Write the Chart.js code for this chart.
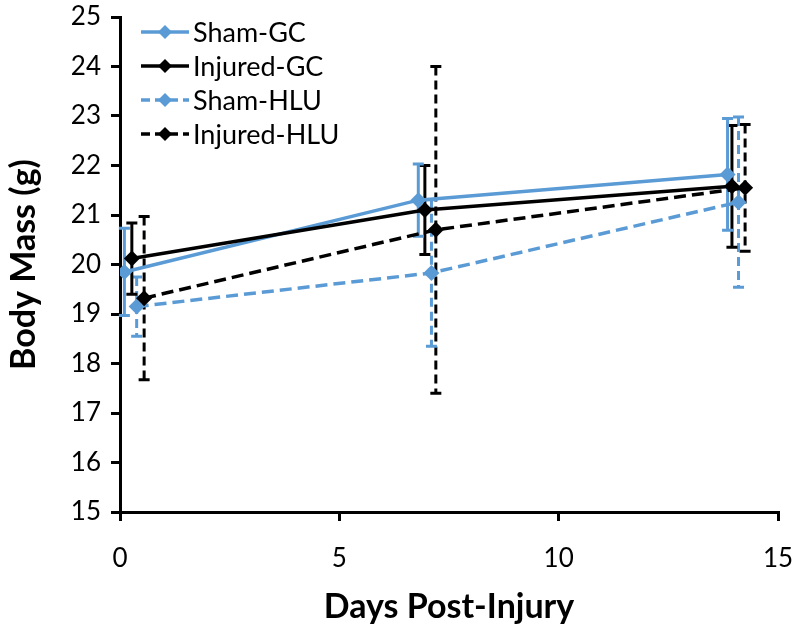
<!DOCTYPE html>
<html>
<head>
<meta charset="utf-8">
<script src="https://cdn.jsdelivr.net/npm/chart.js@4"></script>
<style>
  html, body { margin: 0; padding: 0; background: #fff; }
  #wrap { width: 800px; height: 631px; }
</style>
</head>
<body>
<div id="wrap"><canvas id="massChart" width="800" height="631"></canvas></div>
<script>
// body mass over time, mean +/- error per group

const SERIES_NAMES = ['Sham-GC', 'Injured-GC', 'Sham-HLU', 'Injured-HLU'];

// x positions (days, slightly offset per group as in the figure)
const shamGcDays = [0.1, 6.8, 13.85];
const injGcDays = [0.27, 6.95, 13.95];
const shamHluDays = [0.38, 7.1, 14.1];
const injHluDays = [0.55, 7.2, 14.25];

// mean body mass (g)
const shamGcMass = [19.85, 21.3, 21.82];
const injGcMass = [20.12, 21.1, 21.58];
const shamHluMass = [19.15, 19.83, 21.26];
const injHluMass = [19.32, 20.7, 21.55];

// error bar half-lengths (g)
const shamGcErr = [0.88, 0.73, 1.13];
const injGcErr = [0.72, 0.9, 1.23];
const shamHluErr = [0.6, 1.48, 1.72];
const injHluErr = [1.65, 3.3, 1.28];

const xTicks = [0, 5, 10, 15];
const yTicks = [15, 16, 17, 18, 19, 20, 21, 22, 23, 24, 25];

const BLUE = '#5b9bd5';
const BLACK = '#000000';
const FONT = 'Lato, "Open Sans", sans-serif';

function points(days, mass) {
  return days.map((d, i) => ({ x: d, y: mass[i] }));
}

function makeSet(label, days, mass, err, color, dashed) {
  return {
    label,
    data: points(days, mass),
    errors: err,
    borderColor: color,
    backgroundColor: color,
    borderWidth: 3.5,
    borderDash: dashed ? [12, 6] : [],
    pointStyle: 'rectRot',
    pointRadius: 8,
    pointHoverRadius: 8,
    pointBorderWidth: 0,
    pointBackgroundColor: color,
    tension: 0,
    fill: false
  };
}

const datasets = [
  makeSet(SERIES_NAMES[3], injHluDays, injHluMass, injHluErr, BLACK, true),
  makeSet(SERIES_NAMES[2], shamHluDays, shamHluMass, shamHluErr, BLUE, true),
  makeSet(SERIES_NAMES[1], injGcDays, injGcMass, injGcErr, BLACK, false),
  makeSet(SERIES_NAMES[0], shamGcDays, shamGcMass, shamGcErr, BLUE, false)
];

// vertical error bars with caps, drawn through the scales
const errorBars = {
  id: 'errorBars',
  beforeDatasetsDraw(chart) {
    const { ctx, scales: { x, y } } = chart;
    ctx.save();
    chart.data.datasets.forEach(ds => {
      ds.data.forEach((p, i) => {
        const px = x.getPixelForValue(p.x);
        const top = y.getPixelForValue(p.y + ds.errors[i]);
        const bot = y.getPixelForValue(p.y - ds.errors[i]);
        ctx.strokeStyle = ds.borderColor;
        ctx.lineWidth = 3;
        ctx.setLineDash(ds.borderDash.length ? [9, 5] : []);
        ctx.beginPath();
        ctx.moveTo(px, top);
        ctx.lineTo(px, bot);
        ctx.stroke();
        ctx.setLineDash([]);
        ctx.lineWidth = 3;
        ctx.beginPath();
        ctx.moveTo(px - 5.5, top);
        ctx.lineTo(px + 5.5, top);
        ctx.moveTo(px - 5.5, bot);
        ctx.lineTo(px + 5.5, bot);
        ctx.stroke();
      });
    });
    ctx.restore();
  }
};

// legend inside the plot, top left
const insideLegend = {
  id: 'insideLegend',
  afterDraw(chart) {
    const { ctx } = chart;
    const order = [3, 2, 1, 0];
    ctx.save();
    ctx.font = '27px ' + FONT;
    ctx.textBaseline = 'middle';
    order.forEach((di, row) => {
      const ds = chart.data.datasets[di];
      const yy = 32 + row * 34;
      ctx.strokeStyle = ds.borderColor;
      ctx.lineWidth = 3.5;
      ctx.setLineDash(ds.borderDash.length ? [9, 5] : []);
      ctx.beginPath();
      ctx.moveTo(141, yy);
      ctx.lineTo(189, yy);
      ctx.stroke();
      ctx.setLineDash([]);
      ctx.fillStyle = ds.borderColor;
      ctx.beginPath();
      ctx.moveTo(165, yy - 7);
      ctx.lineTo(172, yy);
      ctx.lineTo(165, yy + 7);
      ctx.lineTo(158, yy);
      ctx.closePath();
      ctx.fill();
      ctx.fillStyle = '#000';
      ctx.fillText(ds.label, 193, yy + 1);
    });
    ctx.restore();
  }
};

const axisLine = { color: '#000', width: 3 };
const tickGrid = { display: true, drawOnChartArea: false, drawTicks: true, tickLength: 9, color: '#000', lineWidth: 3 };

new Chart(document.getElementById('massChart'), {
  type: 'line',
  data: { datasets },
  options: {
    responsive: false,
    animation: false,
    layout: { padding: { top: 17, right: 22, left: 0, bottom: 0 } },
    plugins: {
      legend: { display: false },
      tooltip: { enabled: false }
    },
    scales: {
      x: {
        type: 'linear',
        min: 0,
        max: 15,
        afterBuildTicks: s => { s.ticks = xTicks.map(v => ({ value: v })); },
        border: axisLine,
        grid: tickGrid,
        ticks: { color: '#000', font: { size: 26, family: FONT }, padding: 22 },
        title: { display: true, text: 'Days Post-Injury', color: '#000', font: { size: 34, weight: 'bold', family: FONT }, padding: { top: 0 } },
        afterFit: s => { s.height = 119; s.paddingLeft = 0; s.paddingRight = 0; }
      },
      y: {
        min: 15,
        max: 25,
        afterBuildTicks: s => { s.ticks = yTicks.map(v => ({ value: v })); },
        border: axisLine,
        grid: tickGrid,
        ticks: { color: '#000', font: { size: 26, family: FONT }, padding: 10 },
        title: { display: true, text: 'Body Mass (g)', color: '#000', font: { size: 34, weight: 'bold', family: FONT }, padding: { bottom: 2 } },
        afterFit: s => { s.width = 120; s.paddingTop = 0; s.paddingBottom = 0; }
      }
    }
  },
  plugins: [errorBars, insideLegend]
});
</script>
</body>
</html>
